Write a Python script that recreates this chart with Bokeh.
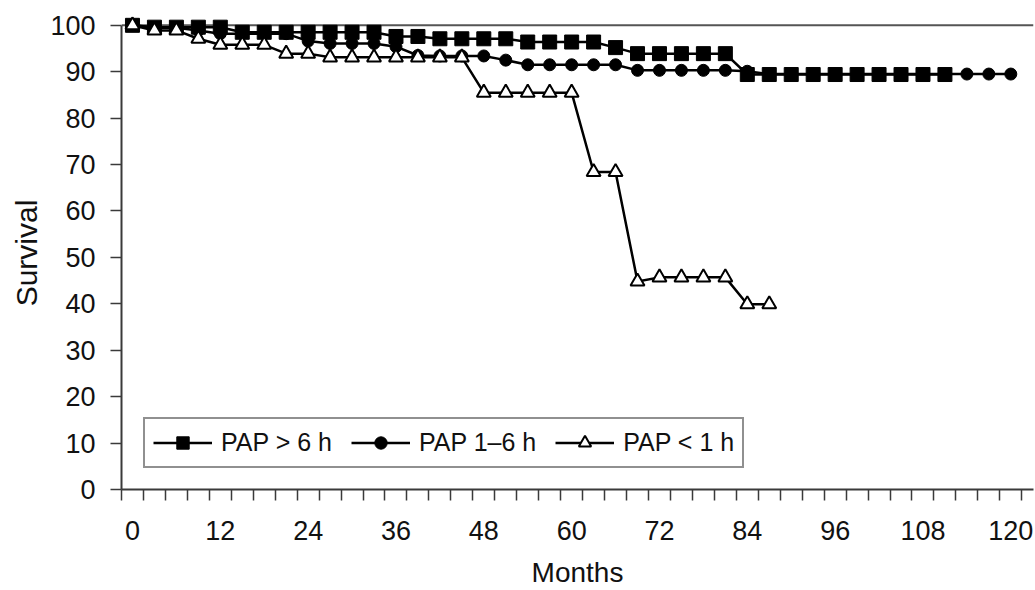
from bokeh.plotting import figure
from bokeh.models import Range1d, FixedTicker, Span, Legend, LegendItem
from bokeh.embed import file_html
from bokeh.resources import INLINE

# Category positions (months, every 3 months)
months = [0, 3, 6, 9, 12, 15, 18, 21, 24, 27, 30, 33, 36, 39, 42, 45, 48, 51, 54, 57,
          60, 63, 66, 69, 72, 75, 78, 81, 84, 87, 90, 93, 96, 99, 102, 105, 108, 111,
          114, 117, 120]

# Survival (%) per series
pap_gt6 = [100, 99.6, 99.6, 99.6, 99.6, 98.5, 98.5, 98.5, 98.5, 98.5, 98.5, 98.5,
           97.6, 97.6, 97.1, 97.1, 97.1, 97.1, 96.4, 96.4, 96.4, 96.4, 95.2, 93.9,
           93.9, 93.9, 93.9, 93.9, 89.4, 89.4, 89.4, 89.4, 89.4, 89.4, 89.4, 89.4,
           89.4, 89.4]
pap_1to6 = [100, 99.5, 99.5, 98.9, 98.2, 98.2, 98.2, 98.2, 96.6, 96.1, 96.1, 96.1,
            95.4, 93.5, 93.4, 93.4, 93.4, 92.5, 91.5, 91.5, 91.5, 91.5, 91.5, 90.3,
            90.3, 90.3, 90.3, 90.3, 90.1, 89.5, 89.5, 89.5, 89.5, 89.5, 89.5, 89.5,
            89.5, 89.5, 89.5, 89.5, 89.5]
pap_lt1 = [100, 98.9, 98.9, 97.1, 95.8, 95.8, 95.8, 93.9, 93.9, 93.1, 93.1, 93.1,
           93.1, 93.1, 93.1, 93.1, 85.5, 85.5, 85.5, 85.5, 85.5, 68.4, 68.4, 44.8,
           45.7, 45.7, 45.7, 45.7, 39.9, 39.9]

series_names = ["PAP > 6 h", "PAP 1\u20136 h", "PAP < 1 h"]
x_tick_labels = [0, 12, 24, 36, 48, 60, 72, 84, 96, 108, 120]
y_ticks = [0, 10, 20, 30, 40, 50, 60, 70, 80, 90, 100]

FONT = "Liberation Sans"
TXT = "#111111"
AX = "#3a3a3a"

p = figure(width=1035, height=590,
           x_range=Range1d(-1.5, 123.1), y_range=Range1d(0, 101.9),
           output_backend="svg", toolbar_location=None,
           min_border_left=121, min_border_right=2,
           min_border_top=16, min_border_bottom=99)
p.outline_line_color = None
p.grid.visible = False
p.background_fill_color = "white"

p.add_layout(Span(location=100, dimension="width", line_color="#555555",
                  line_width=2, level="underlay"))

# series: circles first, squares, then triangles on top
l2 = p.line(months[:len(pap_1to6)], pap_1to6, line_color="black", line_width=2.5)
s2 = p.scatter(months[:len(pap_1to6)], pap_1to6, marker="circle", size=12,
               fill_color="black", line_color="black")
l1 = p.line(months[:len(pap_gt6)], pap_gt6, line_color="black", line_width=2.5)
s1 = p.scatter(months[:len(pap_gt6)], pap_gt6, marker="square", size=14,
               fill_color="black", line_color="black")
l3 = p.line(months[:len(pap_lt1)], pap_lt1, line_color="black", line_width=2.5)
s3 = p.scatter(months[:len(pap_lt1)], pap_lt1, marker="triangle", size=14,
               fill_color="white", line_color="black", line_width=2)

# x axis: labels every 12 months, tick marks between categories
xa = p.xaxis[0]
xa.ticker = FixedTicker(ticks=x_tick_labels,
                        minor_ticks=[-1.5 + 3 * i for i in range(42)])
xa.major_tick_out = 0
xa.major_tick_in = 0
xa.minor_tick_out = 11
xa.minor_tick_in = 0
xa.minor_tick_line_color = AX
xa.minor_tick_line_width = 1.5
xa.axis_line_color = AX
xa.axis_line_width = 2
xa.major_label_standoff = 20
xa.major_label_text_font = FONT
xa.major_label_text_font_size = "27px"
xa.major_label_text_color = TXT
xa.axis_label = "Months"
xa.axis_label_text_font = FONT
xa.axis_label_text_font_size = "28px"
xa.axis_label_text_font_style = "normal"
xa.axis_label_text_color = TXT
xa.axis_label_standoff = 14

ya = p.yaxis[0]
ya.ticker = FixedTicker(ticks=y_ticks, minor_ticks=[])
ya.bounds = (0, 100)
ya.major_tick_out = 11
ya.major_tick_in = 0
ya.major_tick_line_color = AX
ya.major_tick_line_width = 1.5
ya.axis_line_color = AX
ya.axis_line_width = 2
ya.major_label_standoff = 15
ya.major_label_text_font = FONT
ya.major_label_text_font_size = "27px"
ya.major_label_text_color = TXT
ya.axis_label = "Survival"
ya.axis_label_text_font = FONT
ya.axis_label_text_font_size = "30px"
ya.axis_label_text_font_style = "normal"
ya.axis_label_text_color = TXT
ya.axis_label_standoff = 4

legend = Legend(items=[LegendItem(label=series_names[0], renderers=[l1, s1]),
                       LegendItem(label=series_names[1], renderers=[l2, s2]),
                       LegendItem(label=series_names[2], renderers=[l3, s3])],
                location=(22, 21), orientation="horizontal",
                glyph_width=59, glyph_height=31, label_standoff=9, spacing=19,
                padding=8, margin=0,
                border_line_color="#222222", border_line_width=2,
                background_fill_color="white", background_fill_alpha=1,
                label_text_font=FONT, label_text_font_size="25px",
                label_text_color=TXT)
p.add_layout(legend)

open("out.html", "w").write(file_html(p, INLINE))
